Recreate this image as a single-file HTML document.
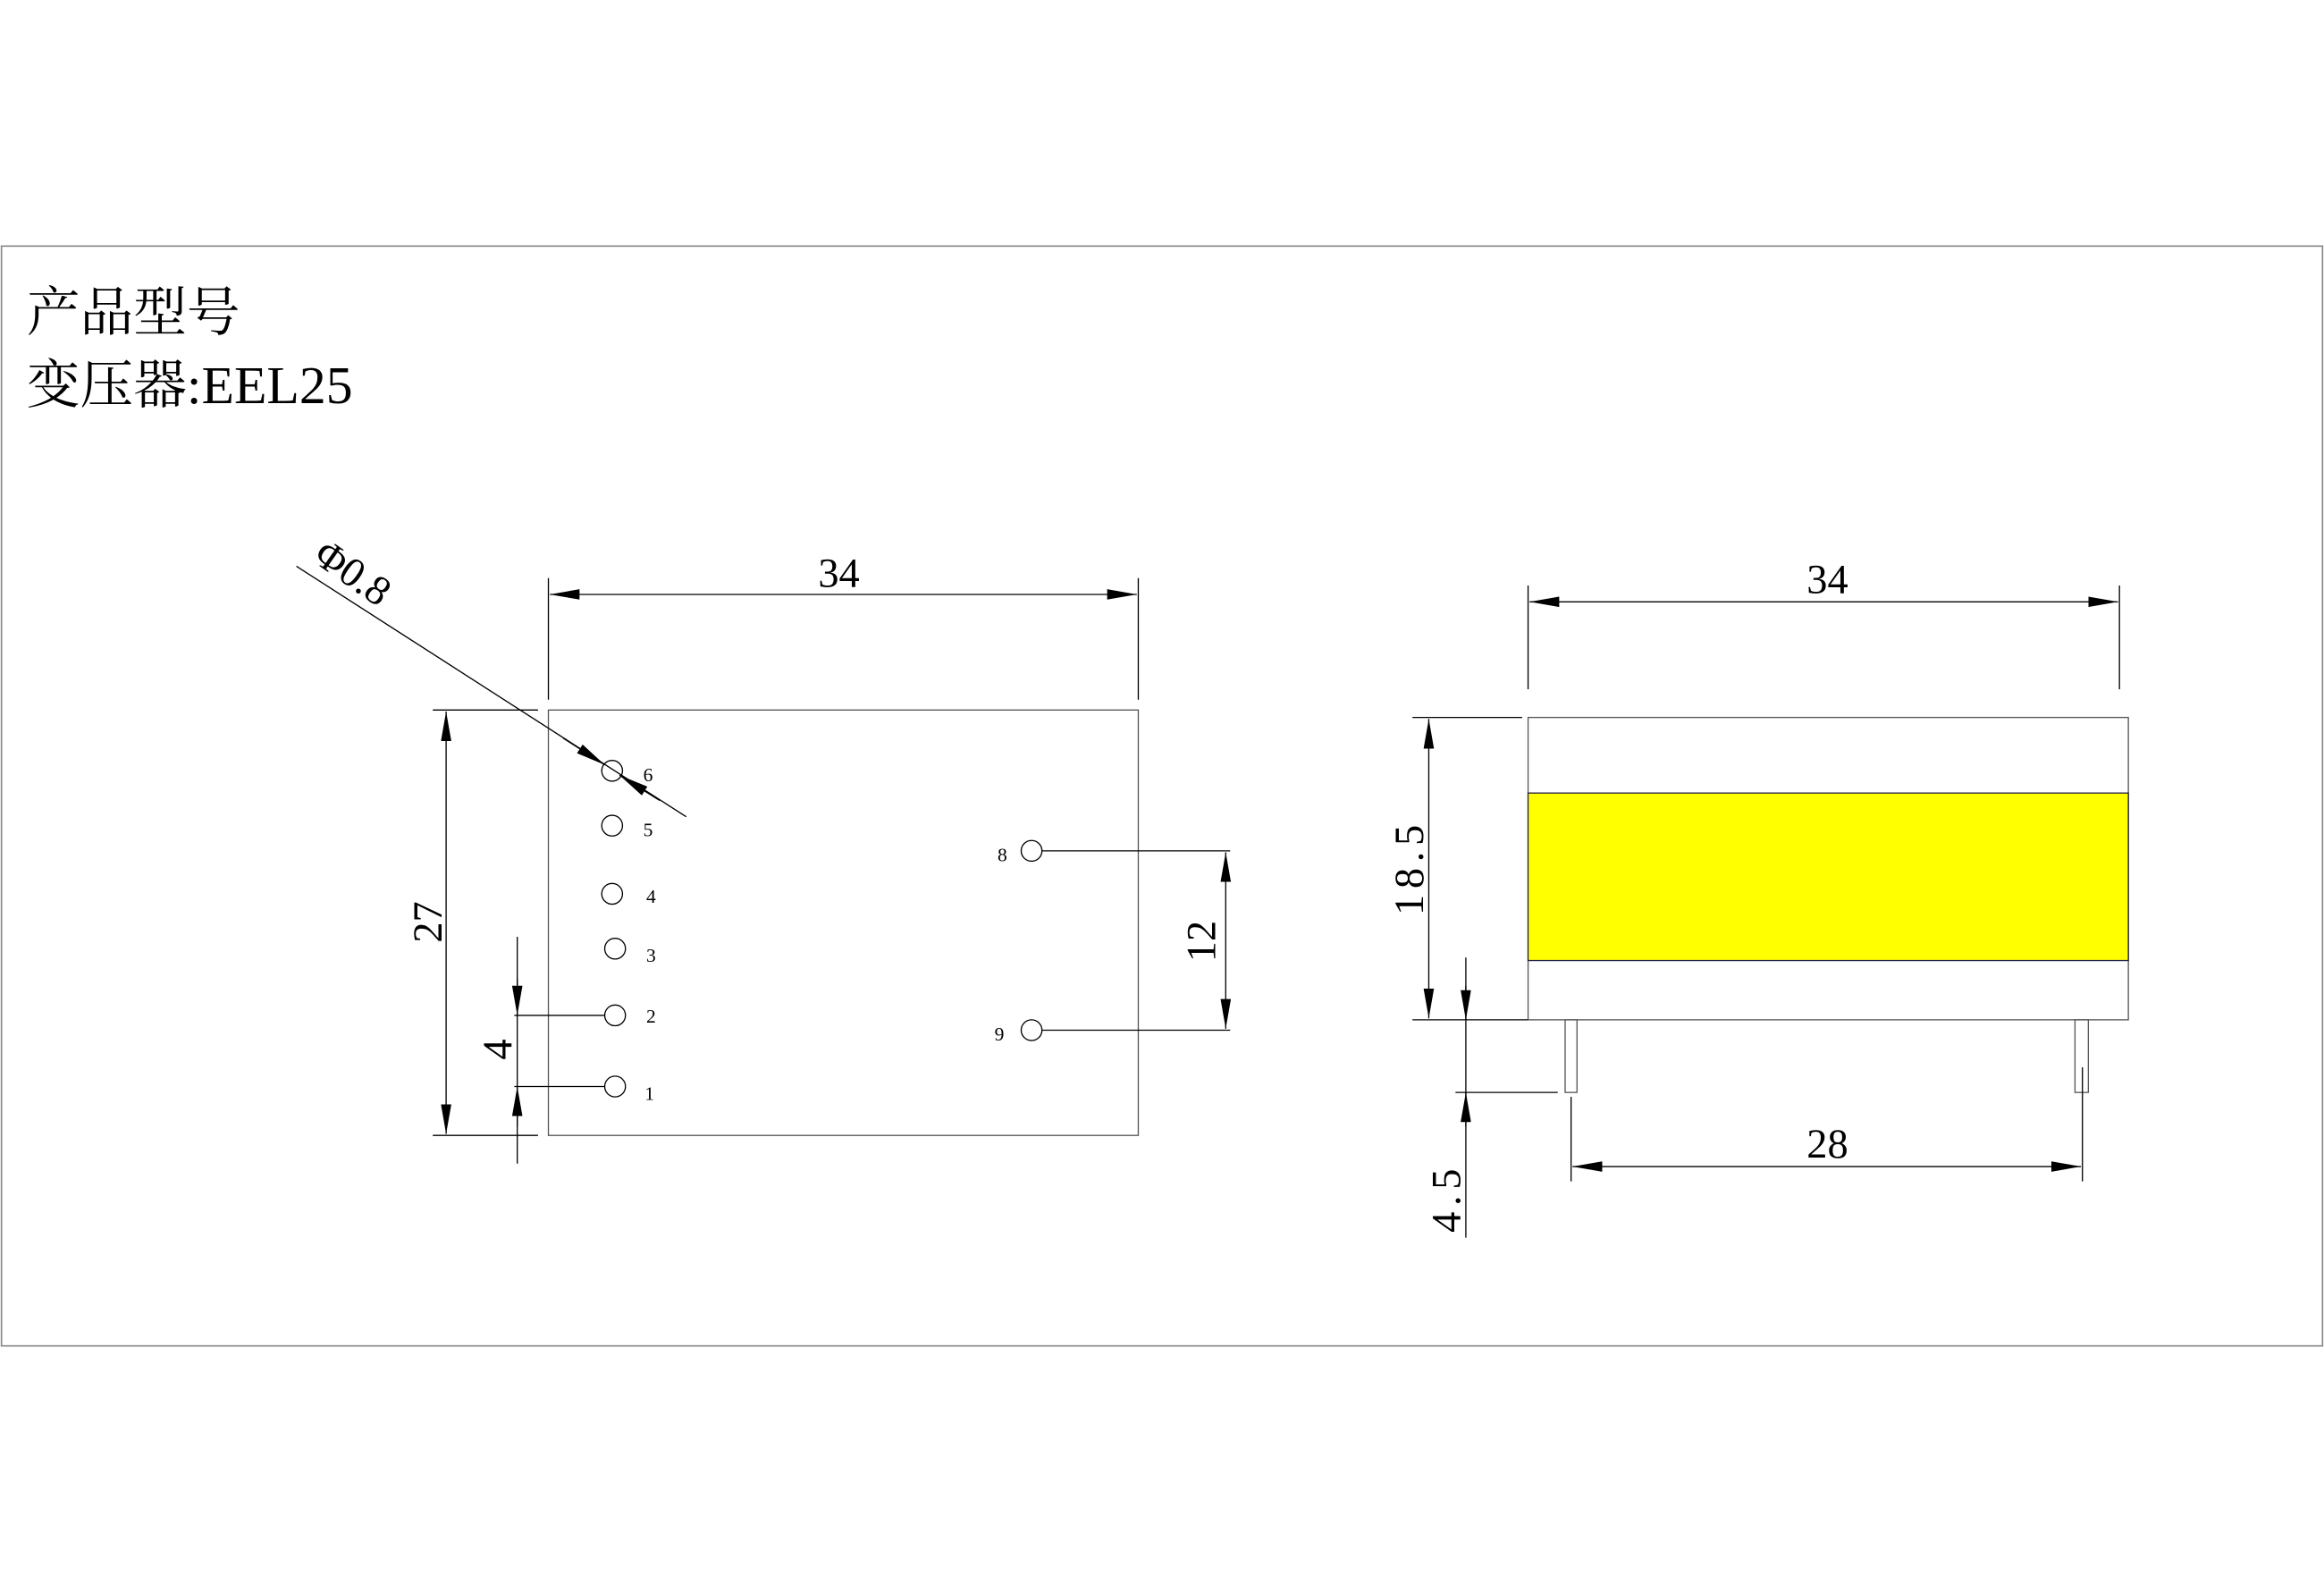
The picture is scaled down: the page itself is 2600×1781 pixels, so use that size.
<!DOCTYPE html>
<html><head><meta charset="utf-8"><style>
html,body{margin:0;padding:0;background:#fff}
svg{display:block}
text{font-family:"Liberation Serif","Noto Serif CJK SC",serif;fill:#000}
</style></head><body>
<svg width="2600" height="1781" viewBox="0 0 1568 1074" xmlns="http://www.w3.org/2000/svg">
<defs>
<marker id="a" viewBox="0 0 20 7" refX="20" refY="3.5" markerWidth="20" markerHeight="7" markerUnits="userSpaceOnUse" orient="auto-start-reverse"><path d="M0,0L20,3.5L0,7z" fill="#000"/></marker>
</defs>
<rect x="1" y="166" width="1566" height="742" fill="none" stroke="#888" stroke-width="1"/>
<text x="18" y="223" font-size="36" font-family="Noto Serif CJK SC,serif">产品型号</text>
<text x="18" y="272" font-size="36" font-family="Noto Serif CJK SC,serif">变压器:EEL25</text>

<g stroke="#000" stroke-width="0.8" fill="none">
<rect x="370" y="479" width="398" height="287" stroke="#555"/>
<line x1="370" y1="390" x2="370" y2="472"/><line x1="768" y1="390" x2="768" y2="472"/>
<line x1="371" y1="401" x2="767" y2="401" marker-start="url(#a)" marker-end="url(#a)"/>
<line x1="292" y1="479" x2="363" y2="479"/><line x1="292" y1="766" x2="363" y2="766"/>
<line x1="301" y1="480" x2="301" y2="765" marker-start="url(#a)" marker-end="url(#a)"/>
<circle cx="413" cy="520" r="7"/><circle cx="413" cy="557" r="7"/><circle cx="413" cy="603" r="7"/>
<circle cx="415" cy="640" r="7"/><circle cx="415" cy="685" r="7"/><circle cx="415" cy="733" r="7"/>
<circle cx="696" cy="574" r="7"/><circle cx="696" cy="695" r="7"/>
<line x1="703" y1="574" x2="830" y2="574"/><line x1="703" y1="695" x2="830" y2="695"/>
<line x1="827" y1="575" x2="827" y2="694" marker-start="url(#a)" marker-end="url(#a)"/>
<line x1="347" y1="685" x2="408" y2="685"/><line x1="347" y1="733" x2="408" y2="733"/>
<line x1="349" y1="632" x2="349" y2="785"/>
<line x1="349" y1="660" x2="349" y2="685" marker-end="url(#a)"/>
<line x1="349" y1="760" x2="349" y2="733" marker-end="url(#a)"/>
<line x1="200" y1="382" x2="463" y2="551"/>
<line x1="380" y1="498" x2="408" y2="516" marker-end="url(#a)"/>
<line x1="445" y1="540" x2="418" y2="523" marker-end="url(#a)"/>
<rect x="1031" y="484" width="405" height="204" stroke="#555"/>
<rect x="1031" y="535" width="405" height="113" fill="#ffff00" stroke="#224"/>
<line x1="1031" y1="395" x2="1031" y2="465"/><line x1="1430" y1="395" x2="1430" y2="465"/>
<line x1="1032" y1="406" x2="1429" y2="406" marker-start="url(#a)" marker-end="url(#a)"/>
<line x1="953" y1="484" x2="1027" y2="484"/><line x1="953" y1="688" x2="1031" y2="688"/>
<line x1="964" y1="485" x2="964" y2="687" marker-start="url(#a)" marker-end="url(#a)"/>
<rect x="1056" y="688" width="8" height="49" stroke="#555"/>
<rect x="1400" y="688" width="9" height="49" stroke="#555"/>
<line x1="982" y1="737" x2="1051" y2="737"/>
<line x1="989" y1="646" x2="989" y2="835"/>
<line x1="989" y1="665" x2="989" y2="688" marker-end="url(#a)"/>
<line x1="989" y1="760" x2="989" y2="737" marker-end="url(#a)"/>
<line x1="1060" y1="740" x2="1060" y2="797"/><line x1="1405" y1="720" x2="1405" y2="797"/>
<line x1="1061" y1="787" x2="1404" y2="787" marker-start="url(#a)" marker-end="url(#a)"/>
</g>

<g font-size="28" text-anchor="middle">
<text x="566" y="396">34</text>
<text x="1233" y="400">34</text>
<text x="1233" y="781">28</text>
<text transform="translate(298,622) rotate(-90)">27</text>
<text transform="translate(820,635) rotate(-90)">12</text>
<text transform="translate(345,708) rotate(-90)">4</text>
<text transform="translate(960,585) rotate(-90)" letter-spacing="4">18.5</text>
<text transform="translate(985,808) rotate(-90)" letter-spacing="4">4.5</text>
</g>
<text transform="translate(210,378) rotate(35)" font-size="28" font-family="Liberation Sans,sans-serif">Φ0.8</text>
<g font-size="13">
<text x="434" y="527">6</text><text x="434" y="564">5</text><text x="436" y="609">4</text>
<text x="436" y="649">3</text><text x="436" y="690">2</text><text x="435" y="742">1</text>
<text x="673" y="581">8</text><text x="671" y="702">9</text>
</g>
</svg>
</body></html>
